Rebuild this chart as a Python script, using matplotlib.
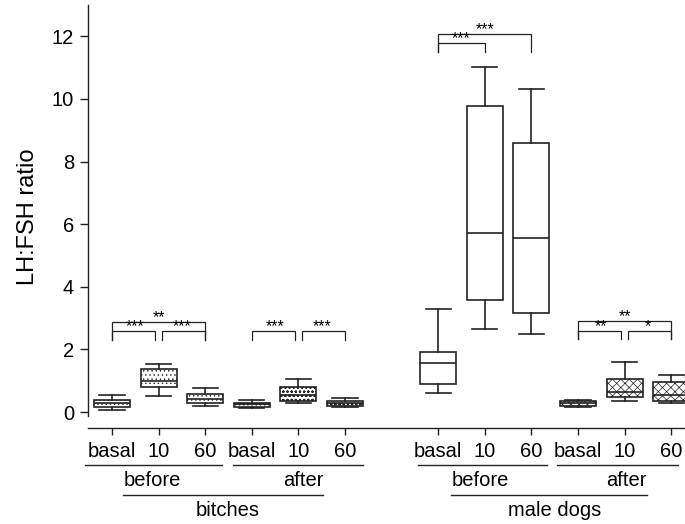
import matplotlib
matplotlib.use("Agg")
import matplotlib.pyplot as plt
from matplotlib.transforms import blended_transform_factory

# groups: bitches before / after, male dogs before / after
tick_labels = ["basal", "10", "60"] * 4
whislo = [0.06, 0.52, 0.20, 0.14, 0.28, 0.15, 0.61, 2.64, 2.48, 0.16, 0.35, 0.28]
q1 = [0.17, 0.79, 0.30, 0.17, 0.34, 0.19, 0.89, 3.59, 3.15, 0.19, 0.47, 0.36]
med = [0.28, 1.00, 0.41, 0.25, 0.54, 0.28, 1.57, 5.71, 5.55, 0.28, 0.63, 0.54]
q3 = [0.38, 1.36, 0.56, 0.30, 0.79, 0.36, 1.92, 9.78, 8.59, 0.36, 1.07, 0.95]
whishi = [0.54, 1.53, 0.78, 0.38, 1.07, 0.44, 3.28, 11.01, 10.32, 0.38, 1.60, 1.18]
hatches = ["....", "....", "....", "oooo", "oooo", "oooo",
           "", "", "", "xxxx", "xxxx", "xxxx"]

phase_labels = ["before", "after", "before", "after"]
animal_labels = ["bitches", "male dogs"]

# significance brackets: (start box, end box, top, base, label)
brackets = [
    (0, 2, 2.88, 2.30, "**"), (0, 1, 2.59, 2.30, "***"), (1, 2, 2.59, 2.30, "***"),
    (3, 4, 2.58, 2.30, "***"), (4, 5, 2.58, 2.30, "***"),
    (6, 8, 12.07, 11.5, "***"), (6, 7, 11.78, 11.5, "***"),
    (9, 11, 2.92, 2.32, "**"), (9, 10, 2.60, 2.32, "**"), (10, 11, 2.60, 2.32, "*"),
]

plt.rcParams["font.family"] = ["Liberation Sans", "DejaVu Sans"]
plt.rcParams["hatch.linewidth"] = 0.5

# one empty slot between the two animal groups
positions = [i if i < 6 else i + 1 for i in range(len(med))]

fig = plt.figure(figsize=(6.85, 5.24), dpi=100)
ax = fig.add_axes([88 / 685, 96 / 524, 606.5 / 685, 423 / 524])

stats = [dict(whislo=a, q1=b, med=c, q3=d, whishi=e, fliers=[])
         for a, b, c, d, e in zip(whislo, q1, med, q3, whishi)]
lw = 1.2
ink = "#222222"
bp = ax.bxp(stats, positions=positions, widths=0.77, patch_artist=True,
            showfliers=False, capwidths=0.54,
            boxprops=dict(linewidth=lw, edgecolor=ink, facecolor="white"),
            medianprops=dict(color=ink, linewidth=lw),
            whiskerprops=dict(color=ink, linewidth=lw),
            capprops=dict(color=ink, linewidth=lw))
for box, h in zip(bp["boxes"], hatches):
    if h:
        box.set_hatch(h)

ax.set_xlim(-0.515, 12.5)
ax.set_ylim(-0.51, 13)
ax.set_xticks(positions)
ax.set_xticklabels(tick_labels)
ax.set_yticks(range(0, 13, 2))
ax.tick_params(axis="both", labelsize=14.5, width=1, color=ink)
ax.tick_params(axis="x", length=5, pad=5)
ax.tick_params(axis="y", length=6, pad=4)
ax.set_ylabel("LH:FSH ratio", fontsize=17)
ax.yaxis.set_label_coords(-0.08, 0.5)
for side in ["top", "right"]:
    ax.spines[side].set_visible(False)
ax.spines["left"].set_bounds(-0.12, 13)
for side in ["left", "bottom"]:
    ax.spines[side].set_linewidth(1)
    ax.spines[side].set_color(ink)

# brackets; neighbouring ones sharing a box leave a small gap
gap = 0.07
for a, b, top, base, lab in brackets:
    xa, xb = positions[a], positions[b]
    if b - a == 1:
        if any(c == b and d - c == 1 and t == top for c, d, t, _, _ in brackets):
            xb -= gap
        if any(d == a and d - c == 1 and t == top for c, d, t, _, _ in brackets):
            xa += gap
    ax.plot([xa, xa, xb, xb], [base, top, top, base], color=ink,
            lw=0.9, solid_joinstyle="miter")
    ax.text((positions[a] + positions[b]) / 2, top - 0.1, lab,
            ha="center", va="bottom", fontsize=11.5)

# group underlines and labels below the axis
tr = blended_transform_factory(ax.transData, fig.transFigure)
phase_spans = [(-0.58, 2.36), (2.60, 5.39), (6.57, 9.33), (9.55, 12.15)]
phase_text_x = [0.86, 4.10, 7.90, 11.03]
for (x0, x1), tx, lab in zip(phase_spans, phase_text_x, phase_labels):
    ax.plot([x0, x1], [1 - 465 / 524] * 2, transform=tr, color=ink,
            lw=1, clip_on=False)
    ax.text(tx, 1 - 481 / 524, lab, transform=tr, ha="center", va="center",
            fontsize=14.5)
animal_spans = [(0.24, 4.53), (7.27, 11.48)]
animal_text_x = [2.49, 9.5]
for (x0, x1), tx, lab in zip(animal_spans, animal_text_x, animal_labels):
    ax.plot([x0, x1], [1 - 495 / 524] * 2, transform=tr, color=ink,
            lw=1, clip_on=False)
    ax.text(tx, 1 - 511 / 524, lab, transform=tr, ha="center", va="center",
            fontsize=14.5)

fig.savefig("out.png", dpi=100)
